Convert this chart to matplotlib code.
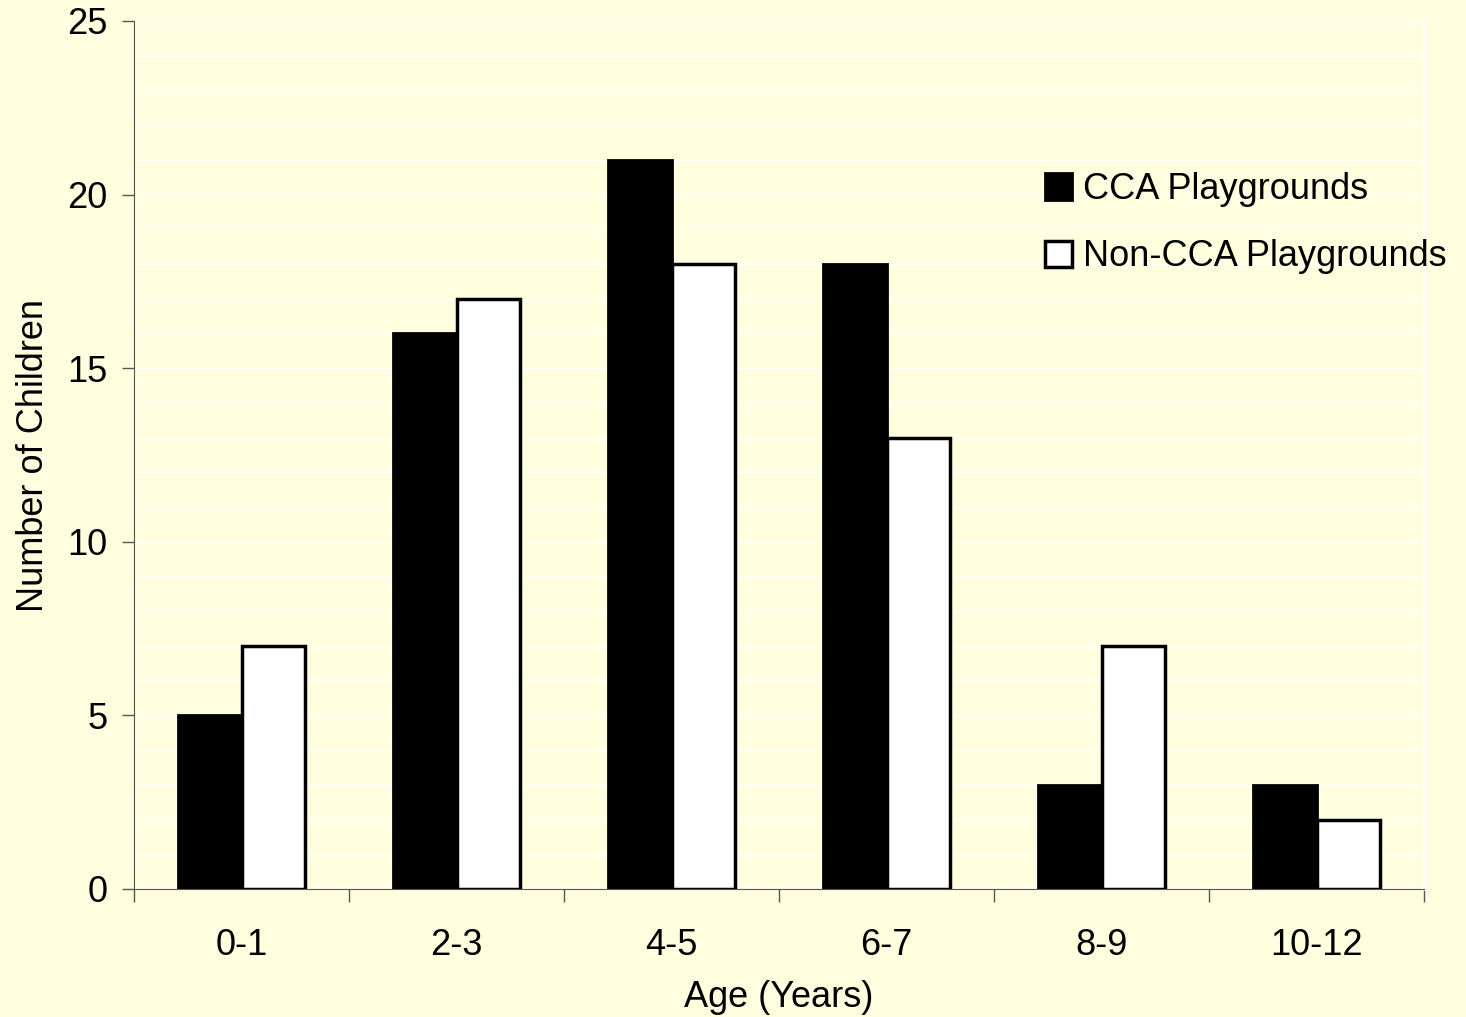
import numpy as np
import matplotlib
matplotlib.use("Agg")
import matplotlib.pyplot as plt
from matplotlib.ticker import MultipleLocator, FixedLocator

plt.rcParams['font.family'] = ['Liberation Sans', 'DejaVu Sans']

ages = ['0-1', '2-3', '4-5', '6-7', '8-9', '10-12']
cca = [5, 16, 21, 18, 3, 3]
non_cca = [7, 17, 18, 13, 7, 2]

bg = '#ffffe0'
fs = 26
fig = plt.figure(figsize=(14.66, 10.17), dpi=100, facecolor=bg)
ax = fig.add_axes([134 / 1466, 1 - 889 / 1017, (1424 - 134) / 1466, (889 - 21) / 1017])
ax.set_facecolor(bg)

x = np.arange(len(ages))
w = 0.295
ax.bar(x - w / 2, cca, w, color='black', edgecolor='black', linewidth=2, label='CCA Playgrounds', zorder=3)
ax.bar(x + w / 2, non_cca, w, color='white', edgecolor='black', linewidth=2.5, label='Non-CCA Playgrounds', zorder=3)

ax.set_xlim(-0.5, len(ages) - 0.5)
ax.set_ylim(0, 25)

# faint white lines at every unit
ax.yaxis.set_major_locator(MultipleLocator(5))
ax.yaxis.set_minor_locator(MultipleLocator(1))
ax.grid(axis='y', which='both', color='white', linewidth=1.0, zorder=0)

ax.set_xticks(x)
ax.set_xticklabels(ages)
ax.xaxis.set_minor_locator(FixedLocator(np.arange(len(ages) + 1) - 0.5))
ax.tick_params(axis='x', which='major', length=0, pad=28, labelsize=fs)
ax.tick_params(axis='x', which='minor', length=9, width=1, color='#555555', direction='out')
ax.tick_params(axis='y', which='major', length=9, width=1, color='#555555', labelsize=fs, pad=10)
ax.tick_params(axis='y', which='minor', length=0)

ax.spines['top'].set_visible(False)
ax.spines['right'].set_color('white')
ax.spines['right'].set_linewidth(2)
ax.spines['left'].set_color('#555555')
ax.spines['bottom'].set_color('#555555')

ax.set_xlabel('Age (Years)', fontsize=fs, labelpad=12)
ax.set_ylabel('Number of Children', fontsize=fs, labelpad=12)

ax.legend(loc='upper left', bbox_to_anchor=(1045 / 1466, 1 - 172 / 1017), bbox_transform=fig.transFigure,
          frameon=False, fontsize=fs, handlelength=0.75, handleheight=0.75, handletextpad=0.3,
          labelspacing=0.9, borderpad=0, borderaxespad=0)

fig.savefig('out.png', dpi=100, facecolor=bg)
